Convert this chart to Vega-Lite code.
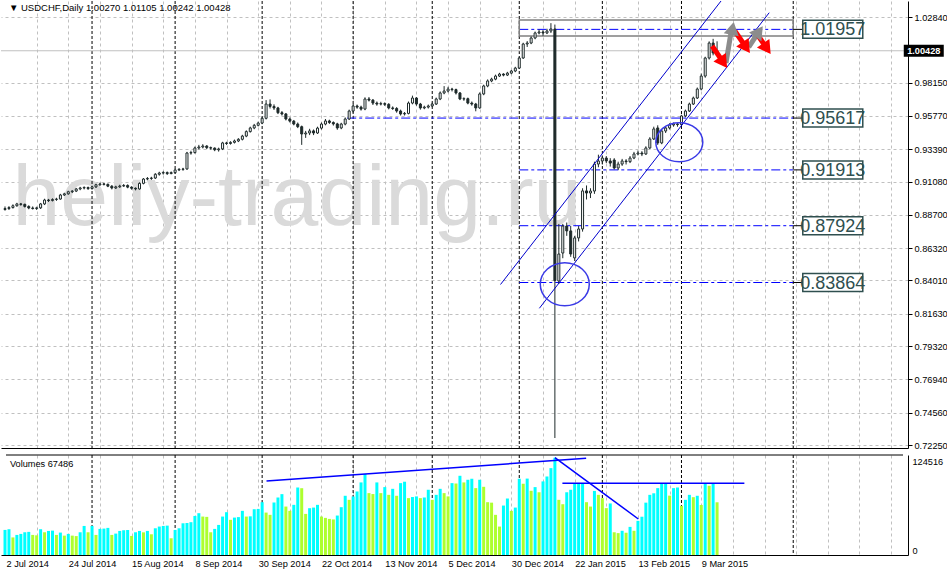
{
"$schema": "https://vega.github.io/schema/vega-lite/v6.json",
"padding": 0,
"background": "white",
"spacing": 3,
"config": {"view": {"stroke": null}, "font": "Liberation Sans", "axis": {"labelFont": "Liberation Sans", "labelFontSize": 9.2, "labelColor": "#000", "title": null}},
"datasets": {
"bars": [
{"i":0,"o":0.8908,"h":0.8930,"l":0.8900,"c":0.8915,"v":32100},
{"i":1,"o":0.8915,"h":0.8932,"l":0.8905,"c":0.8922,"v":33000},
{"i":2,"o":0.8922,"h":0.8945,"l":0.8915,"c":0.8935,"v":22500},
{"i":3,"o":0.8935,"h":0.8956,"l":0.8928,"c":0.8948,"v":25700},
{"i":4,"o":0.8948,"h":0.8955,"l":0.8935,"c":0.8945,"v":27000},
{"i":5,"o":0.8945,"h":0.8950,"l":0.8922,"c":0.8930,"v":29100},
{"i":6,"o":0.8930,"h":0.8938,"l":0.8910,"c":0.8919,"v":29600},
{"i":7,"o":0.8919,"h":0.8930,"l":0.8908,"c":0.8915,"v":25700},
{"i":8,"o":0.8915,"h":0.8928,"l":0.8905,"c":0.8920,"v":25200},
{"i":9,"o":0.8920,"h":0.8955,"l":0.8912,"c":0.8948,"v":33000},
{"i":10,"o":0.8948,"h":0.8985,"l":0.8940,"c":0.8976,"v":29100},
{"i":11,"o":0.8976,"h":0.8984,"l":0.8962,"c":0.8972,"v":30800},
{"i":12,"o":0.8972,"h":0.8988,"l":0.8966,"c":0.8980,"v":31200},
{"i":13,"o":0.8980,"h":0.8992,"l":0.8970,"c":0.8983,"v":25700},
{"i":14,"o":0.8983,"h":0.9020,"l":0.8978,"c":0.9012,"v":28700},
{"i":15,"o":0.9012,"h":0.9028,"l":0.9005,"c":0.9020,"v":24800},
{"i":16,"o":0.9020,"h":0.9042,"l":0.9014,"c":0.9035,"v":27000},
{"i":17,"o":0.9035,"h":0.9046,"l":0.9026,"c":0.9040,"v":24800},
{"i":18,"o":0.9040,"h":0.9062,"l":0.9033,"c":0.9055,"v":24200},
{"i":19,"o":0.9055,"h":0.9070,"l":0.9046,"c":0.9062,"v":29100},
{"i":20,"o":0.9062,"h":0.9074,"l":0.9052,"c":0.9065,"v":37200},
{"i":21,"o":0.9065,"h":0.9072,"l":0.9048,"c":0.9058,"v":29100},
{"i":22,"o":0.9058,"h":0.9078,"l":0.9050,"c":0.9070,"v":37200},
{"i":23,"o":0.9070,"h":0.9092,"l":0.9062,"c":0.9085,"v":25700},
{"i":24,"o":0.9085,"h":0.9100,"l":0.9077,"c":0.9091,"v":33400},
{"i":25,"o":0.9091,"h":0.9098,"l":0.9080,"c":0.9088,"v":33800},
{"i":26,"o":0.9088,"h":0.9094,"l":0.9068,"c":0.9075,"v":34700},
{"i":27,"o":0.9075,"h":0.9082,"l":0.9052,"c":0.9062,"v":25700},
{"i":28,"o":0.9062,"h":0.9078,"l":0.9055,"c":0.9070,"v":27400},
{"i":29,"o":0.9070,"h":0.9085,"l":0.9063,"c":0.9076,"v":30800},
{"i":30,"o":0.9076,"h":0.9090,"l":0.9070,"c":0.9080,"v":31700},
{"i":31,"o":0.9080,"h":0.9088,"l":0.9060,"c":0.9068,"v":32100},
{"i":32,"o":0.9068,"h":0.9074,"l":0.9050,"c":0.9060,"v":24400},
{"i":33,"o":0.9060,"h":0.9066,"l":0.9045,"c":0.9055,"v":29100},
{"i":34,"o":0.9055,"h":0.9102,"l":0.9050,"c":0.9095,"v":30800},
{"i":35,"o":0.9095,"h":0.9133,"l":0.9088,"c":0.9126,"v":29000},
{"i":36,"o":0.9126,"h":0.9140,"l":0.9118,"c":0.9130,"v":30800},
{"i":37,"o":0.9130,"h":0.9142,"l":0.9120,"c":0.9133,"v":26500},
{"i":38,"o":0.9133,"h":0.9168,"l":0.9126,"c":0.9160,"v":34200},
{"i":39,"o":0.9160,"h":0.9178,"l":0.9150,"c":0.9169,"v":36400},
{"i":40,"o":0.9169,"h":0.9182,"l":0.9158,"c":0.9172,"v":37200},
{"i":41,"o":0.9172,"h":0.9180,"l":0.9155,"c":0.9165,"v":37600},
{"i":42,"o":0.9165,"h":0.9180,"l":0.9160,"c":0.9172,"v":21400},
{"i":43,"o":0.9172,"h":0.9200,"l":0.9165,"c":0.9191,"v":32100},
{"i":44,"o":0.9191,"h":0.9204,"l":0.9183,"c":0.9195,"v":34200},
{"i":45,"o":0.9195,"h":0.9206,"l":0.9185,"c":0.9198,"v":40600},
{"i":46,"o":0.9198,"h":0.9320,"l":0.9192,"c":0.9312,"v":41000},
{"i":47,"o":0.9312,"h":0.9328,"l":0.9300,"c":0.9315,"v":42000},
{"i":48,"o":0.9315,"h":0.9358,"l":0.9308,"c":0.9348,"v":50000},
{"i":49,"o":0.9348,"h":0.9370,"l":0.9338,"c":0.9355,"v":53500},
{"i":50,"o":0.9355,"h":0.9375,"l":0.9345,"c":0.9362,"v":49200},
{"i":51,"o":0.9362,"h":0.9368,"l":0.9340,"c":0.9350,"v":48800},
{"i":52,"o":0.9350,"h":0.9358,"l":0.9336,"c":0.9347,"v":29100},
{"i":53,"o":0.9347,"h":0.9352,"l":0.9325,"c":0.9335,"v":33400},
{"i":54,"o":0.9335,"h":0.9350,"l":0.9322,"c":0.9341,"v":38500},
{"i":55,"o":0.9341,"h":0.9392,"l":0.9333,"c":0.9384,"v":49200},
{"i":56,"o":0.9384,"h":0.9392,"l":0.9370,"c":0.9380,"v":54800},
{"i":57,"o":0.9380,"h":0.9396,"l":0.9372,"c":0.9388,"v":45000},
{"i":58,"o":0.9388,"h":0.9408,"l":0.9380,"c":0.9398,"v":47900},
{"i":59,"o":0.9398,"h":0.9418,"l":0.9390,"c":0.9410,"v":48500},
{"i":60,"o":0.9410,"h":0.9442,"l":0.9402,"c":0.9433,"v":56500},
{"i":61,"o":0.9433,"h":0.9474,"l":0.9425,"c":0.9465,"v":49200},
{"i":62,"o":0.9465,"h":0.9500,"l":0.9458,"c":0.9491,"v":49500},
{"i":63,"o":0.9491,"h":0.9520,"l":0.9482,"c":0.9510,"v":58600},
{"i":64,"o":0.9510,"h":0.9536,"l":0.9502,"c":0.9526,"v":59000},
{"i":65,"o":0.9526,"h":0.9570,"l":0.9518,"c":0.9560,"v":67600},
{"i":66,"o":0.9560,"h":0.9690,"l":0.9552,"c":0.9662,"v":54300},
{"i":67,"o":0.9662,"h":0.9695,"l":0.9630,"c":0.9645,"v":51400},
{"i":68,"o":0.9645,"h":0.9660,"l":0.9620,"c":0.9634,"v":67200},
{"i":69,"o":0.9634,"h":0.9642,"l":0.9590,"c":0.9600,"v":73600},
{"i":70,"o":0.9600,"h":0.9612,"l":0.9580,"c":0.9591,"v":77900},
{"i":71,"o":0.9591,"h":0.9598,"l":0.9545,"c":0.9555,"v":62000},
{"i":72,"o":0.9555,"h":0.9566,"l":0.9530,"c":0.9540,"v":56500},
{"i":73,"o":0.9540,"h":0.9548,"l":0.9510,"c":0.9519,"v":64200},
{"i":74,"o":0.9519,"h":0.9530,"l":0.9490,"c":0.9500,"v":86400},
{"i":75,"o":0.9500,"h":0.9508,"l":0.9370,"c":0.9448,"v":85500},
{"i":76,"o":0.9448,"h":0.9470,"l":0.9420,"c":0.9455,"v":52600},
{"i":77,"o":0.9455,"h":0.9485,"l":0.9440,"c":0.9470,"v":59900},
{"i":78,"o":0.9470,"h":0.9480,"l":0.9440,"c":0.9455,"v":60700},
{"i":79,"o":0.9455,"h":0.9500,"l":0.9448,"c":0.9490,"v":64200},
{"i":80,"o":0.9490,"h":0.9530,"l":0.9480,"c":0.9519,"v":49200},
{"i":81,"o":0.9519,"h":0.9555,"l":0.9510,"c":0.9541,"v":47500},
{"i":82,"o":0.9541,"h":0.9550,"l":0.9520,"c":0.9530,"v":46200},
{"i":83,"o":0.9530,"h":0.9538,"l":0.9508,"c":0.9520,"v":45500},
{"i":84,"o":0.9520,"h":0.9528,"l":0.9478,"c":0.9491,"v":50500},
{"i":85,"o":0.9491,"h":0.9528,"l":0.9482,"c":0.9519,"v":61200},
{"i":86,"o":0.9519,"h":0.9566,"l":0.9510,"c":0.9555,"v":75800},
{"i":87,"o":0.9555,"h":0.9622,"l":0.9548,"c":0.9612,"v":70600},
{"i":88,"o":0.9612,"h":0.9662,"l":0.9600,"c":0.9648,"v":74900},
{"i":89,"o":0.9648,"h":0.9658,"l":0.9628,"c":0.9640,"v":81300},
{"i":90,"o":0.9640,"h":0.9650,"l":0.9615,"c":0.9626,"v":92900},
{"i":91,"o":0.9626,"h":0.9710,"l":0.9618,"c":0.9698,"v":103600},
{"i":92,"o":0.9698,"h":0.9712,"l":0.9680,"c":0.9690,"v":79200},
{"i":93,"o":0.9690,"h":0.9698,"l":0.9655,"c":0.9669,"v":78000},
{"i":94,"o":0.9669,"h":0.9680,"l":0.9650,"c":0.9662,"v":92900},
{"i":95,"o":0.9662,"h":0.9678,"l":0.9652,"c":0.9665,"v":79200},
{"i":96,"o":0.9665,"h":0.9674,"l":0.9648,"c":0.9660,"v":86900},
{"i":97,"o":0.9660,"h":0.9668,"l":0.9624,"c":0.9634,"v":77000},
{"i":98,"o":0.9634,"h":0.9645,"l":0.9620,"c":0.9630,"v":84700},
{"i":99,"o":0.9630,"h":0.9640,"l":0.9600,"c":0.9612,"v":75800},
{"i":100,"o":0.9612,"h":0.9622,"l":0.9580,"c":0.9591,"v":92000},
{"i":101,"o":0.9591,"h":0.9605,"l":0.9580,"c":0.9595,"v":93800},
{"i":102,"o":0.9595,"h":0.9680,"l":0.9588,"c":0.9669,"v":72800},
{"i":103,"o":0.9669,"h":0.9722,"l":0.9660,"c":0.9705,"v":74200},
{"i":104,"o":0.9705,"h":0.9712,"l":0.9650,"c":0.9662,"v":75000},
{"i":105,"o":0.9662,"h":0.9670,"l":0.9622,"c":0.9634,"v":72800},
{"i":106,"o":0.9634,"h":0.9650,"l":0.9625,"c":0.9640,"v":73600},
{"i":107,"o":0.9640,"h":0.9658,"l":0.9630,"c":0.9648,"v":83500},
{"i":108,"o":0.9648,"h":0.9672,"l":0.9640,"c":0.9662,"v":70600},
{"i":109,"o":0.9662,"h":0.9708,"l":0.9655,"c":0.9698,"v":77000},
{"i":110,"o":0.9698,"h":0.9752,"l":0.9690,"c":0.9741,"v":84700},
{"i":111,"o":0.9741,"h":0.9790,"l":0.9732,"c":0.9755,"v":79200},
{"i":112,"o":0.9755,"h":0.9785,"l":0.9745,"c":0.9769,"v":75000},
{"i":113,"o":0.9769,"h":0.9778,"l":0.9752,"c":0.9765,"v":92000},
{"i":114,"o":0.9765,"h":0.9772,"l":0.9730,"c":0.9741,"v":91500},
{"i":115,"o":0.9741,"h":0.9748,"l":0.9690,"c":0.9698,"v":101400},
{"i":116,"o":0.9698,"h":0.9710,"l":0.9685,"c":0.9700,"v":92900},
{"i":117,"o":0.9700,"h":0.9708,"l":0.9660,"c":0.9669,"v":96300},
{"i":118,"o":0.9669,"h":0.9680,"l":0.9650,"c":0.9662,"v":97600},
{"i":119,"o":0.9662,"h":0.9670,"l":0.9610,"c":0.9634,"v":85600},
{"i":120,"o":0.9634,"h":0.9745,"l":0.9628,"c":0.9734,"v":96300},
{"i":121,"o":0.9734,"h":0.9800,"l":0.9725,"c":0.9791,"v":87300},
{"i":122,"o":0.9791,"h":0.9838,"l":0.9782,"c":0.9827,"v":67600},
{"i":123,"o":0.9827,"h":0.9850,"l":0.9818,"c":0.9840,"v":67000},
{"i":124,"o":0.9840,"h":0.9872,"l":0.9832,"c":0.9862,"v":51400},
{"i":125,"o":0.9862,"h":0.9885,"l":0.9855,"c":0.9876,"v":36400},
{"i":126,"o":0.9876,"h":0.9882,"l":0.9860,"c":0.9869,"v":63300},
{"i":127,"o":0.9869,"h":0.9892,"l":0.9862,"c":0.9883,"v":72300},
{"i":128,"o":0.9883,"h":0.9906,"l":0.9875,"c":0.9898,"v":56500},
{"i":129,"o":0.9898,"h":0.9928,"l":0.9890,"c":0.9919,"v":60700},
{"i":130,"o":0.9919,"h":1.0000,"l":0.9912,"c":0.9991,"v":97600},
{"i":131,"o":0.9991,"h":1.0100,"l":0.9985,"c":1.0091,"v":91200},
{"i":132,"o":1.0091,"h":1.0112,"l":1.0070,"c":1.0098,"v":97800},
{"i":133,"o":1.0098,"h":1.0145,"l":1.0090,"c":1.0134,"v":82200},
{"i":134,"o":1.0134,"h":1.0180,"l":1.0125,"c":1.0170,"v":86900},
{"i":135,"o":1.0170,"h":1.0195,"l":1.0160,"c":1.0177,"v":80300},
{"i":136,"o":1.0177,"h":1.0190,"l":1.0150,"c":1.0170,"v":94200},
{"i":137,"o":1.0170,"h":1.0200,"l":1.0162,"c":1.0184,"v":100500},
{"i":138,"o":1.0184,"h":1.0240,"l":1.0170,"c":1.0198,"v":111200},
{"i":139,"o":1.0198,"h":1.0230,"l":0.7275,"c":0.8400,"v":124516},
{"i":140,"o":0.8397,"h":0.8805,"l":0.8376,"c":0.8590,"v":70600},
{"i":141,"o":0.8597,"h":0.8805,"l":0.8560,"c":0.8790,"v":65000},
{"i":142,"o":0.8790,"h":0.8815,"l":0.8720,"c":0.8755,"v":80300},
{"i":143,"o":0.8755,"h":0.8790,"l":0.8570,"c":0.8590,"v":83500},
{"i":144,"o":0.8562,"h":0.8720,"l":0.8540,"c":0.8705,"v":91500},
{"i":145,"o":0.8705,"h":0.8790,"l":0.8680,"c":0.8769,"v":92000},
{"i":146,"o":0.8769,"h":0.9060,"l":0.8750,"c":0.9041,"v":92200},
{"i":147,"o":0.9041,"h":0.9080,"l":0.8980,"c":0.9026,"v":67600},
{"i":148,"o":0.9026,"h":0.9060,"l":0.8990,"c":0.9040,"v":62000},
{"i":149,"o":0.9040,"h":0.9250,"l":0.9020,"c":0.9233,"v":82000},
{"i":150,"o":0.9233,"h":0.9300,"l":0.9210,"c":0.9255,"v":77000},
{"i":151,"o":0.9255,"h":0.9295,"l":0.9230,"c":0.9276,"v":72800},
{"i":152,"o":0.9276,"h":0.9290,"l":0.9240,"c":0.9255,"v":60000},
{"i":153,"o":0.9255,"h":0.9275,"l":0.9215,"c":0.9240,"v":66000},
{"i":154,"o":0.9262,"h":0.9275,"l":0.9195,"c":0.9205,"v":29100},
{"i":155,"o":0.9205,"h":0.9250,"l":0.9190,"c":0.9233,"v":28000},
{"i":156,"o":0.9233,"h":0.9270,"l":0.9220,"c":0.9255,"v":31000},
{"i":157,"o":0.9255,"h":0.9268,"l":0.9230,"c":0.9250,"v":28500},
{"i":158,"o":0.9250,"h":0.9290,"l":0.9240,"c":0.9276,"v":36000},
{"i":159,"o":0.9276,"h":0.9320,"l":0.9268,"c":0.9305,"v":31000},
{"i":160,"o":0.9305,"h":0.9330,"l":0.9295,"c":0.9312,"v":43700},
{"i":161,"o":0.9312,"h":0.9325,"l":0.9290,"c":0.9305,"v":49000},
{"i":162,"o":0.9305,"h":0.9360,"l":0.9298,"c":0.9348,"v":67000},
{"i":163,"o":0.9348,"h":0.9425,"l":0.9340,"c":0.9412,"v":77000},
{"i":164,"o":0.9412,"h":0.9500,"l":0.9405,"c":0.9484,"v":79000},
{"i":165,"o":0.9491,"h":0.9510,"l":0.9370,"c":0.9384,"v":85600},
{"i":166,"o":0.9384,"h":0.9480,"l":0.9375,"c":0.9469,"v":92000},
{"i":167,"o":0.9469,"h":0.9500,"l":0.9455,"c":0.9491,"v":92100},
{"i":168,"o":0.9491,"h":0.9525,"l":0.9480,"c":0.9512,"v":76000},
{"i":169,"o":0.9512,"h":0.9530,"l":0.9500,"c":0.9519,"v":85600},
{"i":170,"o":0.9519,"h":0.9528,"l":0.9500,"c":0.9515,"v":86400},
{"i":171,"o":0.9515,"h":0.9585,"l":0.9508,"c":0.9577,"v":63000},
{"i":172,"o":0.9577,"h":0.9622,"l":0.9568,"c":0.9612,"v":70600},
{"i":173,"o":0.9612,"h":0.9672,"l":0.9605,"c":0.9662,"v":77000},
{"i":174,"o":0.9662,"h":0.9715,"l":0.9655,"c":0.9705,"v":74000},
{"i":175,"o":0.9705,"h":0.9780,"l":0.9698,"c":0.9769,"v":75800},
{"i":176,"o":0.9769,"h":0.9880,"l":0.9760,"c":0.9862,"v":64000},
{"i":177,"o":0.9862,"h":1.0000,"l":0.9850,"c":0.9991,"v":92000},
{"i":178,"o":0.9991,"h":1.0110,"l":0.9980,"c":1.0098,"v":88600},
{"i":179,"o":1.0098,"h":1.0128,"l":1.0010,"c":1.0027,"v":92000},
{"i":180,"o":1.0027,"h":1.01105,"l":1.00242,"c":1.00428,"v":67486}
],
"levels": [
{"level":1.01957,"from":130},
{"level":0.95617,"from":86.5},
{"level":0.91913,"from":130},
{"level":0.87924,"from":130},
{"level":0.83864,"from":130}
],
"seps": [{"s":22},{"s":43},{"s":65},{"s":88},{"s":108},{"s":130},{"s":151},{"s":171},{"s":199.25}],
"channels": [
{"x1":125.25,"p1":0.83721,"x2":181,"p2":1.03984},
{"x1":135.08,"p1":0.82021,"x2":193.18,"p2":1.03148}
],
"arrows": [
{"x1":178.75,"p1":1.00768,"x2":181,"p2":0.99839,"hx":181.6,"hp":0.99580,"dir":145,"kind":"down"},
{"x1":182.25,"p1":0.99553,"x2":183.5,"p2":1.01697,"hx":183.9,"hp":1.02030,"dir":11,"kind":"up"},
{"x1":184.5,"p1":1.0184,"x2":186.75,"p2":1.00911,"hx":187.35,"hp":1.00650,"dir":145,"kind":"down"},
{"x1":188,"p1":1.00696,"x2":190,"p2":1.01554,"hx":190.6,"hp":1.01800,"dir":35,"kind":"up"},
{"x1":189.75,"p1":1.01768,"x2":192,"p2":1.00839,"hx":192.6,"hp":1.00580,"dir":145,"kind":"down"}
],
"vlines": [
{"x1":66.1,"v1":94720,"x2":146.9,"v2":123776},
{"x1":139,"v1":124544,"x2":160.1,"v2":46080},
{"x1":140.9,"v1":91776,"x2":186.9,"v2":91776}
]
},
"vconcat": [
{
"width": 907,
"height": 447,
"layer": [
{"data": {"values": [{"t": "heliy-trading.ru"}]},
 "mark": {"type": "text", "align": "left", "baseline": "alphabetic", "font": "Liberation Sans", "fontSize": 86, "color": "#dadada"},
 "encoding": {"x": {"datum": 1.9, "type": "quantitative"}, "y": {"datum": 0.8795, "type": "quantitative"}, "text": {"field": "t"}}},
{"data": {"name": "seps"},
 "mark": {"type": "rule", "color": "#000", "strokeDash": [3, 2]},
 "encoding": {"x": {"field": "s", "type": "quantitative",
   "scale": {"domain": [0.25, 227], "nice": false, "zero": false},
   "axis": {"orient": "bottom", "values": [8,16,24,32,40,48,56,64,72,80,88,96,104,112,120,128,136,144,152,160,168,176,184,192,200,208,216,224], "tickCount": 60, "grid": true, "gridColor": "#c0c0c0", "gridDash": [3, 3], "labels": false, "ticks": false, "domainColor": "#000", "title": null}}}},
{"data": {"values": [{}]},
 "mark": {"type": "rule", "color": "#c0c0c0"},
 "encoding": {"y": {"datum": 1.00428, "type": "quantitative"}}},
{"data": {"name": "levels"},
 "mark": {"type": "rule", "color": "#0000ff", "strokeDash": [9, 3, 3, 3]},
 "encoding": {"x": {"field": "from", "type": "quantitative"}, "x2": {"datum": 199.25},
   "y": {"field": "level", "type": "quantitative",
     "scale": {"domain": [0.72036, 1.03984], "nice": false, "zero": false},
     "axis": {"orient": "right", "values": [1.0284,0.9815,0.9577,0.9339,0.9108,0.887,0.8632,0.8401,0.8163,0.7932,0.7694,0.7456,0.7225], "tickCount": 40, "format": ".5f", "grid": true, "gridColor": "#c0c0c0", "gridDash": [3, 3], "tickColor": "#000", "tickSize": 4, "domainColor": "#000", "labelPadding": 2, "labelOverlap": false, "labelBound": false, "labelFlush": false, "title": null}}}},
{"data": {"values": [{}]},
 "mark": {"type": "rect", "fill": "transparent", "stroke": "#808080", "strokeWidth": 1.5},
 "encoding": {"x": {"datum": 130, "type": "quantitative"}, "x2": {"datum": 199.25}, "y": {"datum": 1.02626, "type": "quantitative"}, "y2": {"datum": 1.01483}}},
{"data": {"name": "bars"},
 "mark": {"type": "rule", "color": "#1e2a2a", "clip": true},
 "encoding": {"x": {"field": "i", "type": "quantitative"}, "y": {"field": "l", "type": "quantitative"}, "y2": {"field": "h"}}},
{"data": {"name": "bars"},
 "mark": {"type": "bar", "width": 2, "stroke": "#1e2a2a", "strokeWidth": 1, "clip": true},
 "encoding": {"x": {"field": "i", "type": "quantitative"}, "y": {"field": "o", "type": "quantitative"}, "y2": {"field": "c"},
   "fill": {"condition": {"test": "datum.c >= datum.o", "value": "#ffffff"}, "value": "#1e2a2a"}}},
{"data": {"name": "channels"},
 "mark": {"type": "rule", "color": "#0000cd", "clip": true},
 "encoding": {"x": {"field": "x1", "type": "quantitative"}, "y": {"field": "p1", "type": "quantitative"}, "x2": {"field": "x2"}, "y2": {"field": "p2"}}},
{"data": {"values": [{}]},
 "mark": {"type": "point", "shape": "M-1,0C-1,-0.486,-0.552,-0.88,0,-0.88C0.552,-0.88,1,-0.486,1,0C1,0.486,0.552,0.88,0,0.88C-0.552,0.88,-1,0.486,-1,0Z", "size": 2401, "filled": false, "stroke": "#3a3ae6", "strokeWidth": 1.5, "opacity": 1},
 "encoding": {"x": {"datum": 141.5, "type": "quantitative"}, "y": {"datum": 0.83736, "type": "quantitative"}}},
{"data": {"values": [{}]},
 "mark": {"type": "point", "shape": "M-1,0C-1,-0.458,-0.552,-0.83,0,-0.83C0.552,-0.83,1,-0.458,1,0C1,0.458,0.552,0.83,0,0.83C-0.552,0.83,-1,0.458,-1,0Z", "size": 2209, "filled": false, "stroke": "#3a3ae6", "strokeWidth": 1.5, "opacity": 1},
 "encoding": {"x": {"datum": 170.45, "type": "quantitative"}, "y": {"datum": 0.93892, "type": "quantitative"}}},
{"data": {"name": "arrows"},
 "mark": {"type": "rule", "strokeWidth": 5, "strokeCap": "butt"},
 "encoding": {"x": {"field": "x1", "type": "quantitative"}, "y": {"field": "p1", "type": "quantitative"}, "x2": {"field": "x2"}, "y2": {"field": "p2"},
   "color": {"field": "kind", "type": "nominal", "scale": {"domain": ["up", "down"], "range": ["#8c8c8c", "#ff0000"]}, "legend": null}}},
{"data": {"name": "arrows"},
 "mark": {"type": "point", "shape": "triangle-up", "size": 230, "filled": true, "opacity": 1},
 "encoding": {"x": {"field": "hx", "type": "quantitative"}, "y": {"field": "hp", "type": "quantitative"},
   "angle": {"field": "dir", "type": "quantitative", "scale": null},
   "color": {"field": "kind", "type": "nominal", "scale": {"domain": ["up", "down"], "range": ["#8c8c8c", "#ff0000"]}, "legend": null}}},
{"data": {"name": "levels"},
 "mark": {"type": "rule", "color": "#000"},
 "encoding": {"x": {"datum": 199.25, "type": "quantitative"}, "x2": {"datum": 201.75}, "y": {"field": "level", "type": "quantitative"}}},
{"data": {"name": "levels"},
 "mark": {"type": "point", "shape": "M-1,-0.3L1,-0.3L1,0.3L-1,0.3Z", "size": 3600, "filled": true, "fill": "#ffffff", "stroke": "#2f4f4f", "strokeWidth": 1.5, "opacity": 1},
 "encoding": {"x": {"datum": 209.25, "type": "quantitative"}, "y": {"field": "level", "type": "quantitative"}}},
{"data": {"name": "levels"},
 "mark": {"type": "text", "font": "Liberation Sans Narrow, Liberation Sans", "fontSize": 18, "color": "#2f4f4f", "align": "center", "baseline": "middle", "dy": 1},
 "encoding": {"x": {"datum": 209.25, "type": "quantitative"}, "y": {"field": "level", "type": "quantitative"}, "text": {"field": "level", "type": "quantitative", "format": ".5f"}}},
{"data": {"values": [{"t": "1.00428"}]},
 "mark": {"type": "point", "shape": "M-1,-0.3L1,-0.3L1,0.3L-1,0.3Z", "size": 1600, "filled": true, "fill": "#000", "opacity": 1, "strokeWidth": 0},
 "encoding": {"x": {"datum": 232.25, "type": "quantitative"}, "y": {"datum": 1.00428, "type": "quantitative"}}},
{"data": {"values": [{"t": "1.00428"}]},
 "mark": {"type": "text", "fontSize": 9.2, "fontWeight": "bold", "color": "#fff", "align": "center", "baseline": "middle"},
 "encoding": {"x": {"datum": 232.25, "type": "quantitative"}, "y": {"datum": 1.00428, "type": "quantitative"}, "text": {"field": "t"}}},
{"data": {"values": [{"t": "▼  USDCHF,Daily  1.00270 1.01105 1.00242 1.00428"}]},
 "mark": {"type": "text", "fontSize": 9.5, "color": "#000", "align": "left", "baseline": "middle"},
 "encoding": {"x": {"datum": 1, "type": "quantitative"}, "y": {"datum": 1.03484, "type": "quantitative"}, "text": {"field": "t"}}}
]
},
{
"width": 907,
"height": 100,
"layer": [
{"data": {"name": "seps"},
 "mark": {"type": "rule", "color": "#000", "strokeDash": [3, 2]},
 "encoding": {"x": {"field": "s", "type": "quantitative",
   "scale": {"domain": [0.25, 227], "nice": false, "zero": false},
   "axis": {"orient": "bottom", "values": [0.25,8,16,24,32,40,48,56,64,72,80,88,96,104,112,120,128,136,144,152,160,168,176,184,192,200,208,216,224], "tickCount": 60,
     "grid": true, "gridColor": {"condition": {"test": "datum.value < 1", "value": "transparent"}, "value": "#c0c0c0"}, "gridDash": [3, 3],
     "ticks": false, "domainColor": "#000", "labelAlign": "left", "labelBaseline": "top", "labelPadding": 4, "labelDx": 1,
     "labelOverlap": false, "labelFlush": false, "labelBound": false, "title": null,
     "labelExpr": "datum.value < 1 ? '2 Jul 2014' : ((datum.value % 16 == 0 && datum.value <= 176) ? ['', '24 Jul 2014', '15 Aug 2014', '8 Sep 2014', '30 Sep 2014', '22 Oct 2014', '13 Nov 2014', '5 Dec 2014', '30 Dec 2014', '22 Jan 2015', '13 Feb 2015', '9 Mar 2015'][datum.value / 16] : '')"}}}},
{"data": {"name": "bars"},
 "transform": [{"window": [{"op": "lag", "field": "v", "as": "pv"}], "sort": [{"field": "i"}]}],
 "mark": {"type": "bar", "width": 3, "clip": true},
 "encoding": {"x": {"field": "i", "type": "quantitative"},
   "y": {"field": "v", "type": "quantitative", "scale": {"domain": [0, 128000], "nice": false},
     "axis": {"orient": "right", "values": [0, 124516], "format": "d", "grid": false, "ticks": false, "domainColor": "#000", "labelPadding": 4, "labelOverlap": false, "title": null,
       "labelBaseline": {"condition": {"test": "datum.value == 0", "value": "bottom"}, "value": "top"}}},
   "color": {"condition": {"test": "datum.pv == null || datum.v > datum.pv", "value": "#00ffff"}, "value": "#adff2f"}}},
{"data": {"name": "vlines"},
 "mark": {"type": "rule", "color": "#0000ff", "strokeWidth": 1.5},
 "encoding": {"x": {"field": "x1", "type": "quantitative"}, "y": {"field": "v1", "type": "quantitative"}, "x2": {"field": "x2"}, "y2": {"field": "v2"}}},
{"data": {"values": [{}]},
 "mark": {"type": "rule", "color": "#000"},
 "encoding": {"x": {"datum": 0.25, "type": "quantitative"}, "x2": {"datum": 227}, "y": {"datum": 128000, "type": "quantitative"}}},
{"data": {"values": [{"t": "Volumes 67486"}]},
 "mark": {"type": "text", "fontSize": 9.2, "color": "#000", "align": "left", "baseline": "middle"},
 "encoding": {"x": {"datum": 1.25, "type": "quantitative"}, "y": {"datum": 117120, "type": "quantitative"}, "text": {"field": "t"}}}
]
}
]
}
